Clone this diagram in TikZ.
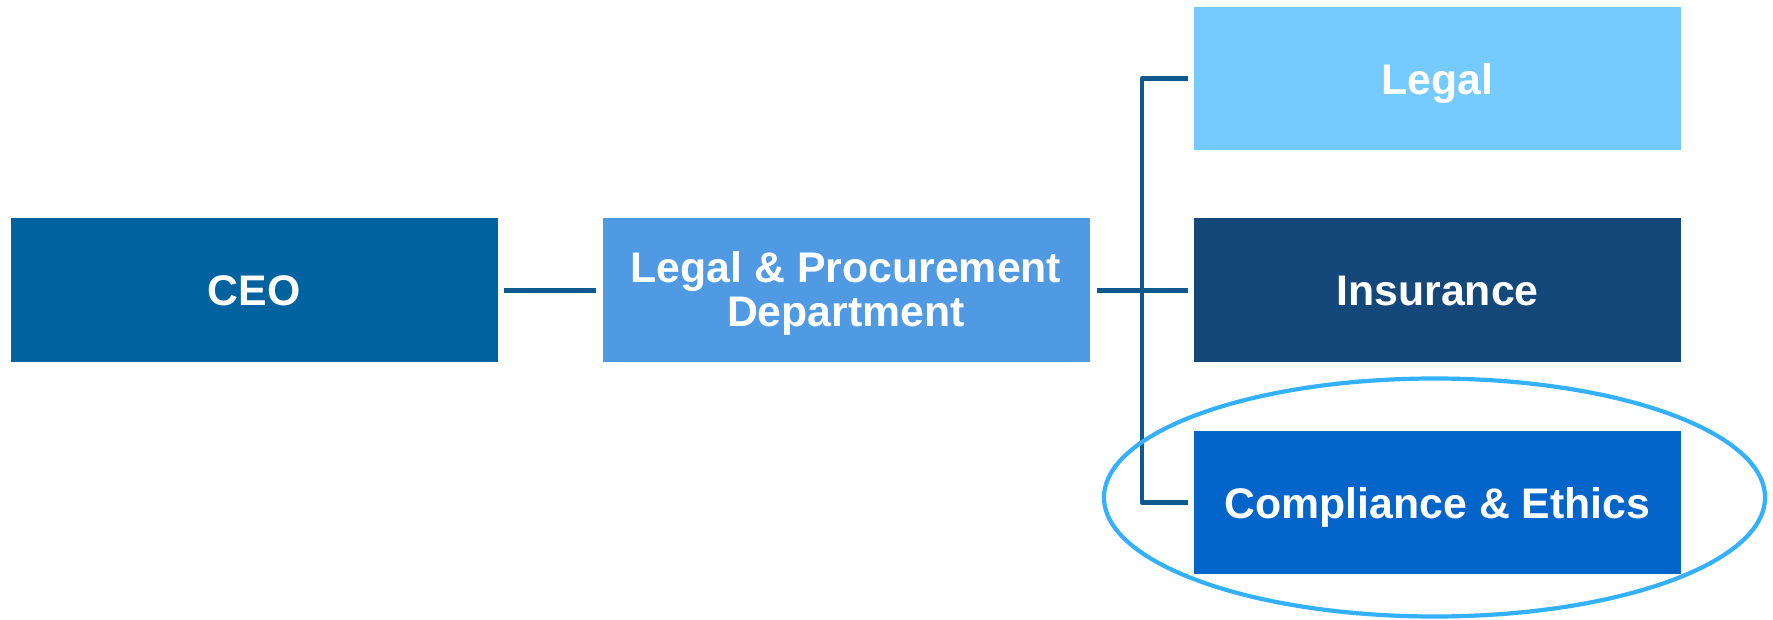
\documentclass[tikz,border=0pt]{standalone}
\usepackage{fontspec}
\setmainfont{Liberation Sans}
\usetikzlibrary{shapes.geometric}
\definecolor{ceoC}{HTML}{0063A0}
\definecolor{lpC}{HTML}{4F9AE2}
\definecolor{legalC}{HTML}{75CAFF}
\definecolor{insC}{HTML}{14487A}
\definecolor{compC}{HTML}{0364C9}
\definecolor{lineC}{HTML}{0E5A8E}
\definecolor{ellC}{HTML}{33B0FF}
\tikzset{
  box/.style={rectangle, inner sep=0pt, minimum width=487pt, minimum height=144pt,
    text=white, align=center, font=\fontsize{42.8}{44}\selectfont\bfseries},
  flat/.style={text depth=0pt},
  conn/.style={draw=lineC, line width=4.6pt, line join=round},
  hilite/.style={draw=ellC, line width=4.2pt, ellipse, inner sep=0pt}
}
\begin{document}
\begin{tikzpicture}[x=1pt, y=-1pt]
\useasboundingbox (0,0) rectangle (1773,620);
\node[box, fill=ceoC] (ceo) at (254,290.5) {CEO};
\node[box, fill=lpC] (lp) at (846,290.5) {\rule{0pt}{37pt}Legal \& Procurement\\Department};
\node[box, flat, fill=legalC, minimum height=143pt] (legal) at (1437.5,78.5) {Legal};
\node[box, fill=insC] (ins) at (1437.5,290.5) {Insurance};
\node[box, flat, fill=compC, minimum height=143pt] (comp) at (1437.5,502.5) {Compliance \& Ethics};
\coordinate (trunk) at (1142,0);
\draw[conn, shorten <=6pt, shorten >=6pt] (ceo.east) -- (lp.west);
\draw[conn, shorten <=7pt, shorten >=6pt] (lp.east) -- (ins.west);
\draw[conn, shorten <=6pt, shorten >=6pt] (legal.west) -- (legal.west -| trunk) -- (comp.west -| trunk) -- (comp.west);
\node[hilite, minimum width=661pt, minimum height=238pt] (ring) at (1434.5,497.5) {};
\end{tikzpicture}
\end{document}
